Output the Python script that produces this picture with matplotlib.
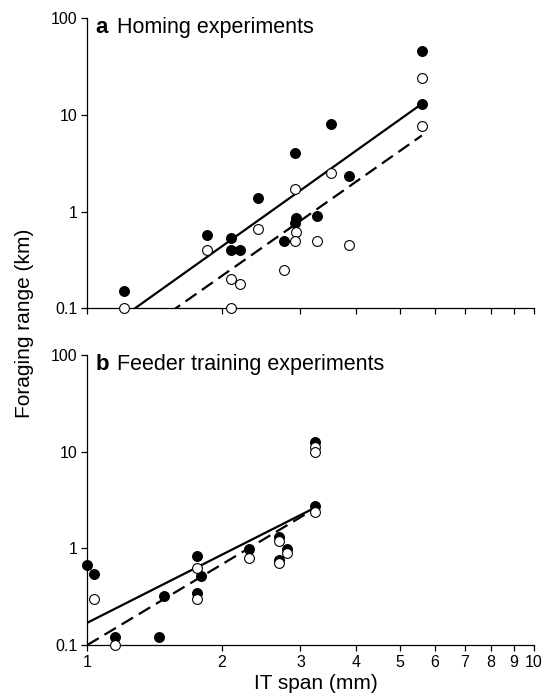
import numpy as np
import matplotlib
matplotlib.use("Agg")
import matplotlib.pyplot as plt
from matplotlib.ticker import FixedLocator, NullLocator, FixedFormatter

plt.rcParams['font.family'] = ['Liberation Sans', 'DejaVu Sans']

# a: homing experiments
a_fill_x = [1.21, 1.85, 2.10, 2.10, 2.20, 2.41, 2.75, 2.92, 2.93, 2.92, 3.26, 3.51, 3.86, 5.61, 5.61]
a_fill_y = [0.15, 0.58, 0.53, 0.40, 0.40, 1.40, 0.50, 4.05, 0.85, 0.77, 0.91, 8.1, 2.34, 46.0, 13.0]
a_open_x = [1.21, 1.85, 2.10, 2.10, 2.20, 2.41, 2.75, 2.92, 2.93, 2.92, 3.26, 3.51, 3.86, 5.61, 5.61]
a_open_y = [0.10, 0.40, 0.20, 0.10, 0.177, 0.66, 0.25, 1.71, 0.61, 0.50, 0.50, 2.53, 0.45, 24.3, 7.6]

# b: feeder training experiments
b_fill_x = [1.0, 1.035, 1.153, 1.444, 1.485, 1.757, 1.797, 1.757, 2.306, 2.686, 2.686, 2.805, 3.234, 3.234]
b_fill_y = [0.68, 0.54, 0.12, 0.12, 0.32, 0.83, 0.52, 0.345, 0.98, 1.30, 0.76, 0.99, 12.5, 2.76]
b_open_x = [1.035, 1.153, 1.757, 1.757, 2.306, 2.686, 2.686, 2.805, 3.234, 3.234, 3.234]
b_open_y = [0.30, 0.10, 0.63, 0.30, 0.79, 1.19, 0.70, 0.90, 11.1, 9.9, 2.39]

# fitted power laws y = c * x**k  (solid = filled, dashed = open)
a_solid = (0.0445, 3.294, 1.0, 5.61)
a_dash = (0.0228, 3.244, 1.0, 5.61)
b_solid = (0.170, 2.335, 1.0, 3.234)
b_dash = (0.100, 2.77, 1.0, 3.234)

ticks_x = [1, 2, 3, 4, 5, 6, 7, 8, 9, 10]
ticks_y = [0.1, 1, 10, 100]
ticks_y_lab = ['0.1', '1', '10', '100']

fig = plt.figure(figsize=(5.44, 6.98), dpi=100)
ax1 = fig.add_axes([0.1605, 0.5583, 0.8211, 0.4155])
ax2 = fig.add_axes([0.1605, 0.0759, 0.8211, 0.4155])


def fitline(ax, p, ls):
    c, k, x0, x1 = p
    xx = np.logspace(np.log10(x0), np.log10(x1), 50)
    ax.plot(xx, c * xx ** k, color='black', lw=1.6, ls=ls, zorder=2)


def panel(ax, fx, fy, ox, oy, ps, pd, letter, title, show_x):
    ax.set_xscale('log')
    ax.set_yscale('log')
    ax.set_xlim(1, 10)
    ax.set_ylim(0.1, 100)
    fitline(ax, ps, '-')
    fitline(ax, pd, (0, (6, 3)))
    ax.scatter(fx, fy, s=50, c='black', edgecolors='black', linewidths=0.8, zorder=3, clip_on=False)
    ax.scatter(ox, oy, s=50, c='white', edgecolors='black', linewidths=0.8, zorder=4, clip_on=False)
    for s in ['top', 'right']:
        ax.spines[s].set_visible(False)
    for s in ['left', 'bottom']:
        ax.spines[s].set_linewidth(0.9)
    ax.xaxis.set_major_locator(FixedLocator(ticks_x))
    ax.xaxis.set_minor_locator(NullLocator())
    ax.yaxis.set_major_locator(FixedLocator(ticks_y))
    ax.yaxis.set_minor_locator(NullLocator())
    ax.yaxis.set_major_formatter(FixedFormatter(ticks_y_lab))
    if show_x:
        ax.xaxis.set_major_formatter(FixedFormatter([str(t) for t in ticks_x]))
    else:
        ax.xaxis.set_major_formatter(FixedFormatter([''] * len(ticks_x)))
    ax.tick_params(length=4, width=0.9, labelsize=11.5, pad=3)
    ax.text(0.019, 0.95, letter, transform=ax.transAxes, fontsize=16, fontweight='bold', va='baseline')
    ax.text(0.066, 0.95, title, transform=ax.transAxes, fontsize=15.5, va='baseline')


panel(ax1, a_fill_x, a_fill_y, a_open_x, a_open_y, a_solid, a_dash, 'a', 'Homing experiments', False)
panel(ax2, b_fill_x, b_fill_y, b_open_x, b_open_y, b_solid, b_dash, 'b', 'Feeder training experiments', True)

ax2.set_xlabel('IT span (mm)', fontsize=15)
ax2.xaxis.set_label_coords(0.512, -0.100)
fig.text(0.045, 0.537, 'Foraging range (km)', rotation=90, fontsize=15, ha='center', va='center')

fig.savefig('out.png', dpi=100)
